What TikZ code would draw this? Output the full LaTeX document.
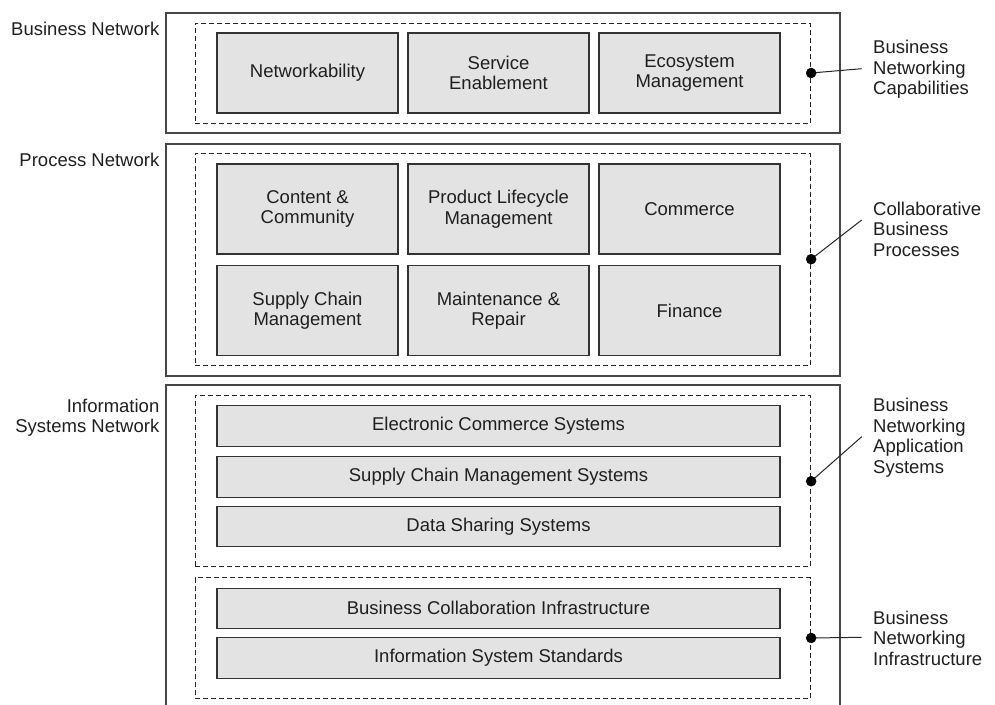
\documentclass[tikz,border=0pt]{standalone}
\usepackage{fontspec}
\setmainfont{Liberation Sans}
\begin{document}
\begin{tikzpicture}[x=1pt,y=-1pt,
  txt/.style={font=\fontsize{18.5}{20.5}\selectfont, text=black!88},
  outerbox/.style={draw=black!72, line width=1.3pt},
  dashbox/.style={draw=black!85, dash pattern=on 5pt off 3pt, line width=0.9pt, inner sep=0pt, minimum width=615.7pt},
  cell/.style={txt, draw=black!80, line width=1.4pt, fill=black!11, align=center, inner sep=0pt},
  bigcell/.style={cell, minimum width=181pt},
  bar/.style={cell, minimum width=563pt},
  sidelbl/.style={txt, inner sep=0pt, align=left, anchor=north west},
  leftlbl/.style={txt, inner sep=0pt, align=right},
  dotmark/.style={circle, fill=black, draw=black, inner sep=0pt, minimum size=10pt},
  callout/.style={draw=black!85, line width=1pt}]
\useasboundingbox (0,0) rectangle (995,704);

% outer boxes
\node[outerbox, minimum width=674pt, minimum height=120pt, inner sep=0pt] (ob1) at (503,73) {};
\node[outerbox, minimum width=674pt, minimum height=232pt, inner sep=0pt] (ob2) at (503,260) {};
\draw[outerbox] (166,710) -- (166,385) -- (840,385) -- (840,710);

% dashed groups
\node[dashbox, minimum height=100pt] (d1) at (502.85,73) {};
\node[dashbox, minimum height=211.7pt] (d2) at (502.85,259.2) {};
\node[dashbox, minimum height=171pt] (d3) at (502.85,481.2) {};
\node[dashbox, minimum height=120.6pt] (d4) at (502.85,638) {};

% business network
\node[bigcell, minimum height=80pt] (nw) at (307.5,73) {Networkability};
\node[bigcell, minimum height=80pt] (se) at (498.5,73) {Service\\Enablement};
\node[bigcell, minimum height=80pt] (em) at (689.5,73) {Ecosystem\\Management};

% process network
\node[bigcell, minimum height=90pt] (cc) at (307.5,209) {Content \&\\Community};
\node[bigcell, minimum height=90pt] (pl) at (498.5,209) {Product Lifecycle\\Management};
\node[bigcell, minimum height=90pt] (co) at (689.5,209) {Commerce};
\node[bigcell, minimum height=90pt] (sc) at (307.5,310.5) {Supply Chain\\Management};
\node[bigcell, minimum height=90pt] (mr) at (498.5,310.5) {Maintenance \&\\Repair};
\node[bigcell, minimum height=90pt] (fi) at (689.5,310.5) {Finance};

% information systems network
\node[bar, minimum height=41pt] (ecs) at (498.5,426) {Electronic Commerce Systems};
\node[bar, minimum height=41pt] (scm) at (498.5,476.7) {Supply Chain Management Systems};
\node[bar, minimum height=40pt] (dss) at (498.5,526.7) {Data Sharing Systems};
\node[bar, minimum height=40pt] (bci) at (498.5,608.3) {Business Collaboration Infrastructure};
\node[bar, minimum height=41pt] (iss) at (498.5,657.8) {Information System Standards};

% left labels
\node[leftlbl, anchor=base east] (lbn) at (159.5,35.7) {Business Network};
\node[leftlbl, anchor=base east] (lpn) at (159.5,166.7) {Process Network};
\node[leftlbl, anchor=north east] (lis) at (159.5,398.5) {Information\\Systems Network};

% right labels
\node[sidelbl] (r1) at (873,40) {Business\\Networking\\Capabilities};
\node[sidelbl] (r2) at (873,201.5) {Collaborative\\Business\\Processes};
\node[sidelbl] (r3) at (873,398.2) {Business\\Networking\\Application\\Systems};
\node[sidelbl] (r4) at (873,610.7) {Business\\Networking\\Infrastructure};

% callouts
\coordinate (e1) at (861.7,68.7);
\coordinate (e2) at (861.7,220);
\coordinate (e3) at (861.7,436.7);
\coordinate (e4) at (861.7,637.3);
\draw[callout] (d1.east) -- (e1);
\draw[callout] (d2.east) -- (e2);
\draw[callout] (d3.east) -- (e3);
\draw[callout] (d4.east) -- (e4);
\node[dotmark] (p1) at (d1.east) {};
\node[dotmark] (p2) at (d2.east) {};
\node[dotmark] (p3) at (d3.east) {};
\node[dotmark] (p4) at (d4.east) {};
\end{tikzpicture}
\end{document}
